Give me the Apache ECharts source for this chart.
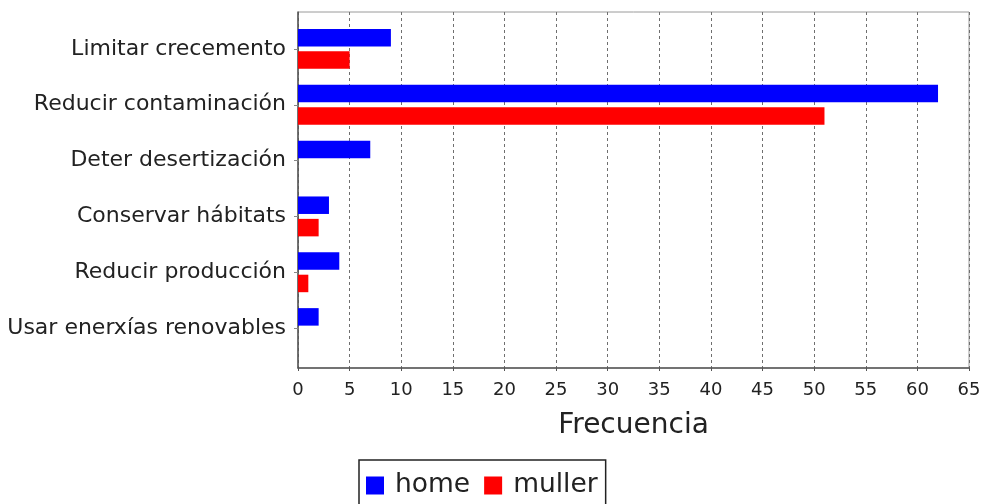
<!DOCTYPE html>
<html>
<head>
<meta charset="utf-8">
<script src="https://cdn.jsdelivr.net/npm/echarts@6/dist/echarts.min.js"></script>
<style>
  html, body { margin: 0; padding: 0; background: #fff; }
  #chart { width: 984px; height: 504px; }
</style>
</head>
<body>
<div id="chart"></div>
<script>
// Reasons given, counted per group
const categories = [
  'Limitar crecemento',
  'Reducir contaminación',
  'Deter desertización',
  'Conservar hábitats',
  'Reducir producción',
  'Usar enerxías renovables'
];
const homeValues = [9, 62, 7, 3, 4, 2];
const mullerValues = [5, 51, 0, 2, 1, 0];
const seriesNames = ['home', 'muller'];
const axisTitle = 'Frecuencia';
const xMin = 0, xMax = 65, xStep = 5;

const FONT = 'DejaVu Sans';
const chart = echarts.init(document.getElementById('chart'), null, { renderer: 'canvas' });

chart.setOption({
  animation: false,
  backgroundColor: '#ffffff',
  textStyle: { fontFamily: FONT },
  grid: [
    // frame with the value axis, grid lines and border
    { left: 298, right: 15, top: 12, bottom: 136, show: true, borderColor: '#9a9a9a', borderWidth: 1, backgroundColor: 'transparent' },
    // inner band for the categories, inset so the rows sit away from the frame edges
    { left: 298, right: 15, top: 21, bottom: 148 }
  ],
  xAxis: [
    {
      gridIndex: 0, type: 'value', min: xMin, max: xMax, interval: xStep,
      axisLine: { show: true, lineStyle: { color: '#555', width: 1.5 } },
      axisTick: { show: true, length: 3, lineStyle: { color: '#555' } },
      axisLabel: { fontFamily: FONT, fontSize: 18, color: '#222', margin: 13 },
      splitLine: { show: true, lineStyle: { color: '#6f6f6f', type: [3, 3], width: 1 } },
      name: axisTitle, nameLocation: 'middle', nameGap: 44,
      nameTextStyle: { fontFamily: FONT, fontSize: 28, color: '#222' }
    },
    {
      gridIndex: 1, type: 'value', min: xMin, max: xMax, interval: xStep,
      show: false
    }
  ],
  yAxis: [
    {
      gridIndex: 0, type: 'value', min: 0, max: 1,
      axisLine: { show: true, lineStyle: { color: '#555', width: 1.5 } },
      axisTick: { show: false }, axisLabel: { show: false }, splitLine: { show: false }
    },
    {
      gridIndex: 1, type: 'category', data: categories, inverse: true,
      axisLine: { show: false },
      axisTick: { show: true, alignWithLabel: true, inside: false, length: 4, lineStyle: { color: '#888' } },
      axisLabel: { fontFamily: FONT, fontSize: 22, color: '#222', margin: 12 },
      splitLine: { show: false }
    }
  ],
  legend: {
    data: seriesNames,
    left: 359, top: 460,
    orient: 'horizontal',
    icon: 'rect',
    itemWidth: 18, itemHeight: 18,
    itemGap: 14,
    padding: [12, 8, 12, 7],
    borderColor: '#222', borderWidth: 1.5,
    textStyle: { fontFamily: FONT, fontSize: 26.5, color: '#222', padding: [0, 0, 0, 6] }
  },
  series: [
    {
      name: seriesNames[0], type: 'bar', xAxisIndex: 1, yAxisIndex: 1,
      data: homeValues, barWidth: 17.5, barGap: '28%',
      itemStyle: { color: '#0000ff' }
    },
    {
      name: seriesNames[1], type: 'bar', xAxisIndex: 1, yAxisIndex: 1,
      data: mullerValues, barWidth: 17.5, barGap: '28%',
      itemStyle: { color: '#ff0000' }
    }
  ]
});
</script>
</body>
</html>
